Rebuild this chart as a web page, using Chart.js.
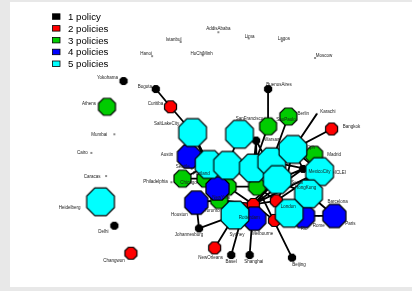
<!DOCTYPE html>
<html>
<head>
<meta charset="utf-8">
<script src="https://cdn.jsdelivr.net/npm/chart.js@4.4.1/dist/chart.umd.min.js"></script>
<style>
  html, body { margin: 0; padding: 0; background: #e8e8e8; width: 412px; height: 291px; overflow: hidden; }
  #wrap { position: absolute; left: 10px; top: 2px; width: 402px; height: 285px; background: #fff; }
</style>
</head>
<body>
<div id="wrap"><canvas id="net"></canvas></div>
<script>
// network layout (page pixel units)
const nodeNames = [
  'AddisAbaba', 'Istanbul', 'Lima', 'Lagos', 'Moscow', 'Hanoi', 'HoChiMinh', 'Mumbai', 'Cairo', 'Caracas',
  'Karachi', 'ICLEI', 'Philadelphia', 'Seattle', 'Toronto', 'Rome',
  'Yokohama', 'Bogota', 'BuenosAires', 'Warsaw', 'Delhi', 'Johannesburg', 'Basel', 'Shanghai', 'Beijing', 'Seoul', 'HongKong',
  'Curitiba', 'Bangkok', 'Changwon', 'NewOrleans', 'Melbourne', 'r1', 'r2', 'r3',
  'Athens', 'Berlin', 'SaoPaulo', 'Madrid', 'Chicago', 'Portland', 'g1', 'g2', 'NewYork',
  'Austin', 'Houston', 'b1', 'Rotterdam', 'Rio', 'Paris',
  'SaltLakeCity', 'SanFrancisco', 'c1', 'c2', 'c3', 'c4', 'Cph', 'c5', 'MexicoCity', 'Barcelona', 'London', 'Sydney', 'Heidelberg'
];
const nodeX = [
  219, 178, 252, 288, 324, 147, 202, 106, 81, 97,
  326, 344, 168, 190, 222, 328,
  116, 151, 273, 260, 106, 198, 233, 253, 299, 311, 292,
  167, 342, 124, 215, 280, 247, 257, 282,
  98, 295, 273, 323, 180, 205, 229, 261, 220,
  187, 195, 218, 258, 311, 345,
  191, 242, 209, 229, 257, 277, 300, 283, 329, 317, 296, 237, 91
];
const nodeY = [
  18, 29, 25, 28, 47, 45, 44, 133, 154, 180,
  110, 176, 187, 172, 214, 225,
  73, 82, 82, 140, 236, 239, 269, 269, 272, 172, 190,
  102, 127, 267, 261, 230, 217, 212, 208,
  102, 113, 124, 156, 183, 183, 192, 192, 207,
  158, 210, 194, 228, 225, 225,
  131, 133, 167, 168, 171, 164, 150, 184, 175, 200, 222, 224, 209
];
const nodePolicies = [
  0, 0, 0, 0, 0, 0, 0, 0, 0, 0,
  0, 0, 0, 0, 0, 0,
  1, 1, 1, 1, 1, 1, 1, 1, 1, 1, 1,
  2, 2, 2, 2, 2, 2, 2, 2,
  3, 3, 3, 3, 3, 3, 3, 3, 3,
  4, 4, 4, 4, 4, 4,
  5, 5, 5, 5, 5, 5, 5, 5, 5, 5, 5, 5, 5
];
// label offset from node centre (null = no label)
const labelDx = [
  0, -7, 1, 2, 9, -6, -1, -15, -9, -14,
  11, 7, -16, -9, -9, 0,
  -16, -11, 11, 16, -11, -10, 0, 4, 7, -6, 20,
  -15, 20, -17, -4, -12, null, null, null,
  -18, 15, 18, 20, 6, -4, null, null, 2,
  -22, -17, null, -5, 1, 16,
  -26, 10, null, null, null, null, 18, null, 0, 29, -1, 2, -31
];
const labelDy = [
  -3, -2, -2, -2, -2, -2, -2, 0, 0, 1,
  -2, 0, 0, -2, 5, 10,
  -3, -2, -4, -1, 6, 6, 7, 7, 7, 14, 3,
  -3, -2, 8, 10, 13, null, null, null,
  -3, -3, -7, 0, 4, -5, null, null, -2,
  -2, 12, null, -1, 13, 8,
  -9, -16, null, null, null, null, -2, null, 0, 8, -7, 20, 6
];
const edgeFrom = [
  'Bogota', 'Curitiba', 'SaltLakeCity', 'SaltLakeCity', 'SanFrancisco', 'BuenosAires', 'SaoPaulo', 'Berlin',
  'Karachi', 'Bangkok', 'Madrid', 'Warsaw', 'Warsaw', 'Warsaw', 'Barcelona', 'Barcelona', 'Rio',
  'Johannesburg', 'Johannesburg', 'NewOrleans', 'Basel', 'Shanghai', 'Beijing', 'Austin', 'Chicago', 'Chicago',
  'Houston', 'NewYork', 'NewYork', 'b1', 'c1', 'c2', 'c3', 'c4', 'Cph', 'c5', 'Cph', 'Seoul',
  'HongKong', 'HongKong', 'HongKong', 'MexicoCity', 'MexicoCity', 'c5', 'c5', 'g1', 'g1', 'g2', 'r2',
  'r1', 'r2', 'r3', 'Melbourne', 'Sydney', 'Sydney', 'Portland', 'c2', 'c3', 'c4', 'HongKong', 'Seoul', 'Cph'
];
const edgeTo = [
  'Curitiba', 'SaltLakeCity', 'c1', 'b1', 'c2', 'SaoPaulo', 'c3', 'c4',
  'Cph', 'Cph', 'Cph', 'g2', 'c5', 'c3', 'Rio', 'Paris', 'Paris',
  'Houston', 'Sydney', 'Sydney', 'r1', 'r2', 'g2', 'c1', 'c1', 'Portland',
  'NewYork', 'r2', 'r1', 'g1', 'c2', 'c3', 'c4', 'Cph', 'MexicoCity', 'Seoul', 'Seoul', 'MexicoCity',
  'c5', 'r3', 'Barcelona', 'r3', 'r2', 'r2', 'r1', 'r2', 'g2', 'r3', 'r3',
  'Rotterdam', 'Melbourne', 'London', 'London', 'Rotterdam', 'r1', 'g1', 'g1', 'g2', 'MexicoCity', 'Cph', 'r2', 'c3'
];
const legendLabels = ['1 policy', '2 policies', '3 policies', '4 policies', '5 policies'];
const policyColors = ['#000000', '#000000', '#ff0000', '#00cc00', '#0000ff', '#00ffff'];
const policyRadius = [0.8, 3.8, 6.5, 9.2, 12.5, 15];

function octagon(r, fill) {
  const c = document.createElement('canvas');
  const s = Math.ceil(2 * r + 4);
  c.width = s; c.height = s;
  const g = c.getContext('2d');
  g.beginPath();
  for (let i = 0; i < 8; i++) {
    const a = Math.PI / 8 + i * Math.PI / 4;
    g.lineTo(s / 2 + r * Math.cos(a), s / 2 + r * Math.sin(a));
  }
  g.closePath();
  g.fillStyle = fill;
  g.fill();
  if (r > 2) {
    g.lineWidth = 1.2;
    g.strokeStyle = '#000';
    g.stroke();
  }
  return c;
}
const shapes = policyRadius.map((r, i) => octagon(r, policyColors[i]));

const nodeData = nodeNames.map((n, i) => ({ x: nodeX[i], y: nodeY[i] }));
const edgeData = [];
edgeFrom.forEach((a, i) => {
  const p = nodeNames.indexOf(a), q = nodeNames.indexOf(edgeTo[i]);
  edgeData.push({ x: nodeX[p], y: nodeY[p] }, { x: nodeX[q], y: nodeY[q] }, { x: NaN, y: NaN });
});

const labelPlugin = {
  id: 'nodeLabels',
  afterDatasetsDraw(chart) {
    const c = chart.ctx, xs = chart.scales.x, ys = chart.scales.y;
    c.save();
    c.font = '4.5px "Liberation Sans", Arial, sans-serif';
    c.fillStyle = '#1a1a1a';
    c.textAlign = 'center';
    c.textBaseline = 'middle';
    nodeNames.forEach((n, i) => {
      if (labelDx[i] === null) return;
      c.fillText(n, xs.getPixelForValue(nodeX[i]) + labelDx[i], ys.getPixelForValue(nodeY[i]) + labelDy[i]);
    });
    c.restore();
  }
};

const legendPlugin = {
  id: 'policyLegend',
  afterDraw(chart) {
    const c = chart.ctx;
    c.save();
    c.font = '9.7px "Liberation Sans", Arial, sans-serif';
    c.textBaseline = 'middle';
    legendLabels.forEach((t, i) => {
      const cy = 14.8 + 11.8 * i;
      c.fillStyle = policyColors[i + 1];
      c.fillRect(42.5, cy - 3, 7.5, 5.5);
      c.strokeStyle = '#000';
      c.lineWidth = 0.8;
      c.strokeRect(42.5, cy - 3, 7.5, 5.5);
      c.fillStyle = '#000';
      c.fillText(t, 58, cy + 0.5);
    });
    c.restore();
  }
};

new Chart(document.getElementById('net'), {
  type: 'scatter',
  data: {
    datasets: [
      {
        label: 'nodes',
        data: nodeData,
        order: 0,
        pointStyle: nodePolicies.map(p => shapes[p]),
        pointRadius: nodePolicies.map(p => policyRadius[p]),
        backgroundColor: nodePolicies.map(p => policyColors[p])
      },
      {
        label: 'edges',
        data: edgeData,
        order: 1,
        showLine: true,
        spanGaps: false,
        pointRadius: 0,
        borderColor: '#000',
        borderWidth: 1.8
      }
    ]
  },
  options: {
    responsive: true,
    maintainAspectRatio: false,
    animation: false,
    events: [],
    layout: { padding: 0 },
    plugins: { legend: { display: false }, tooltip: { enabled: false } },
    scales: {
      x: { type: 'linear', min: 10, max: 412, display: false },
      y: { type: 'linear', min: 2, max: 287, reverse: true, display: false }
    }
  },
  plugins: [labelPlugin, legendPlugin]
});
</script>
</body>
</html>
